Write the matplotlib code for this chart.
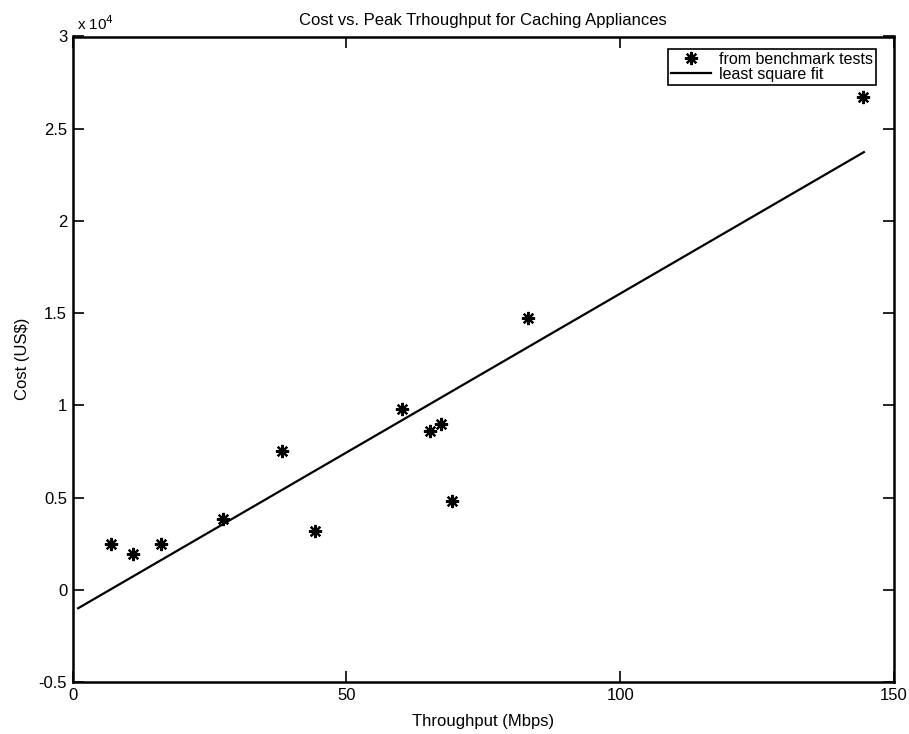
import matplotlib
matplotlib.use("Agg")
import matplotlib.pyplot as plt
from matplotlib.ticker import FixedLocator, FuncFormatter

plt.rcParams['font.family'] = ['Liberation Sans', 'DejaVu Sans']

# Benchmark data (throughput in Mbps, cost in US$)
throughput = [7.0, 11.1, 16.1, 27.4, 38.2, 44.2, 60.2, 65.2, 67.2, 69.3, 83.2, 144.3]
cost = [2500, 1950, 2480, 3860, 7550, 3200, 9800, 8600, 8970, 4840, 14760, 26700]

# Least square fit line end points
fit_x = [1.0, 144.5]
fit_y = [-1000, 23730]

xticks = [0, 50, 100, 150]
yticks = [-5000, 0, 5000, 10000, 15000, 20000, 25000, 30000]

fig = plt.figure(figsize=(9.09, 7.34), dpi=100)
ax = fig.add_axes([72.7 / 909, 1 - 682 / 734, (894 - 72.7) / 909, (682 - 36.5) / 734])

ax.plot(throughput, cost, linestyle='none', marker=(8, 2, 0), markersize=9.5,
        markeredgewidth=1.6, color='black', label='from benchmark tests')
ax.plot(fit_x, fit_y, color='black', linewidth=1.6, label='least square fit')

ax.set_xlim(0, 150)
ax.set_ylim(-5000, 30000)
ax.xaxis.set_major_locator(FixedLocator(xticks))
ax.yaxis.set_major_locator(FixedLocator(yticks))
ax.yaxis.set_major_formatter(FuncFormatter(lambda v, p: f"{v / 1e4:g}"))
ax.xaxis.set_major_formatter(FuncFormatter(lambda v, p: f"{v:g}"))

ax.tick_params(direction='in', length=8, width=1.2, top=True, right=True,
               labelsize=12, pad=4, colors='black')
for s in ax.spines.values():
    s.set_linewidth(1.8)

ax.text(0.005, 1.006, r"x 10$^4$", transform=ax.transAxes, fontsize=11,
        ha='left', va='bottom')

ax.set_title("Cost vs. Peak Trhoughput for Caching Appliances", fontsize=12, pad=8)
ax.set_xlabel("Throughput (Mbps)", fontsize=12, labelpad=8)
ax.set_ylabel("Cost (US$)", fontsize=12, labelpad=6)

leg = ax.legend(loc='upper right', bbox_to_anchor=(0.9785, 0.981), fontsize=11.5,
                frameon=True, fancybox=False, edgecolor='black', framealpha=1,
                borderpad=0.2, handlelength=2.5, handletextpad=0.5,
                labelspacing=0.0, borderaxespad=0)
leg.get_frame().set_linewidth(1.2)

fig.savefig("out.png", dpi=100, facecolor='white')
